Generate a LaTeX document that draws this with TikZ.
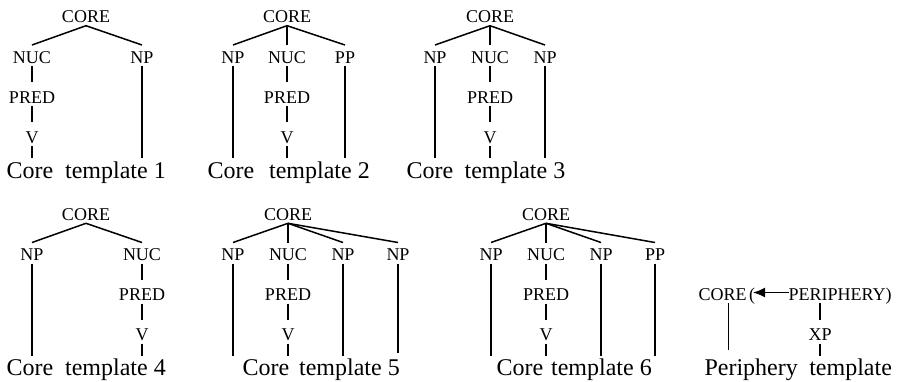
\documentclass[tikz,border=0pt]{standalone}
\usepackage{fontspec}
\setmainfont{Liberation Serif}
\usetikzlibrary{arrows.meta}
\begin{document}
\begin{tikzpicture}[x=0.5pt,y=-0.5pt,
  lab/.style={font=\fontsize{9}{10}\selectfont, inner xsep=0pt, inner ysep=1.5pt,
    outer sep=0pt, text height=7.5pt, text depth=0pt, anchor=base},
  tmplcap/.style={font=\fontsize{12}{14}\selectfont, inner xsep=0pt, inner ysep=2pt,
    outer sep=0pt, text height=8pt, text depth=0pt, anchor=base west},
  treeln/.style={line width=0.75pt},
  vertln/.style={treeln, shorten >=1.5pt}]
\useasboundingbox (0,0) rectangle (898,381);

% ---------- Core template 1 ----------
\node[lab] (a) at (86,22.7) {CORE};
\node[lab] (anuc) at (32,63) {NUC};
\node[lab] (anp) at (142,63) {NP};
\node[lab] (apred) at (32,103) {PRED};
\node[lab] (av) at (32,143) {V};
\node[tmplcap] (acap) at (6.5,178) {Core\hspace{3pt} template 1};
\draw[treeln] (a.south) -- (anuc.north);
\draw[treeln] (a.south) -- (anp.north);
\draw[vertln] (anuc.south) -- (apred.north);
\draw[vertln] (apred.south) -- (av.north);
\draw[treeln] (av.south) -- (av |- acap.north);
\draw[treeln] (anp.south) -- (anp |- acap.north);

% ---------- Core template 2 ----------
\node[lab] (b) at (287,22.7) {CORE};
\node[lab] (bnp) at (233,63) {NP};
\node[lab] (bnuc) at (287,63) {NUC};
\node[lab] (bpp) at (345,63) {PP};
\node[lab] (bpred) at (287,103) {PRED};
\node[lab] (bv) at (287,143) {V};
\node[tmplcap] (bcap) at (207.5,178) {Core\hspace{4.5pt} template 2};
\draw[treeln] (b.south) -- (bnp.north);
\draw[treeln] (b.south) -- (bnuc.north);
\draw[treeln] (b.south) -- (bpp.north);
\draw[vertln] (bnuc.south) -- (bpred.north);
\draw[vertln] (bpred.south) -- (bv.north);
\draw[treeln] (bv.south) -- (bv |- bcap.north);
\draw[treeln] (bnp.south) -- (bnp |- bcap.north);
\draw[treeln] (bpp.south) -- (bpp |- bcap.north);

% ---------- Core template 3 ----------
\node[lab] (c) at (490,22.7) {CORE};
\node[lab] (cnpa) at (435,63) {NP};
\node[lab] (cnuc) at (490,63) {NUC};
\node[lab] (cnpb) at (545,63) {NP};
\node[lab] (cpred) at (490,103) {PRED};
\node[lab] (cv) at (490,143) {V};
\node[tmplcap] (ccap) at (406.5,178) {Core\hspace{2.75pt} template 3};
\draw[treeln] (c.south) -- (cnpa.north);
\draw[treeln] (c.south) -- (cnuc.north);
\draw[treeln] (c.south) -- (cnpb.north);
\draw[vertln] (cnuc.south) -- (cpred.north);
\draw[vertln] (cpred.south) -- (cv.north);
\draw[treeln] (cv.south) -- (cv |- ccap.north);
\draw[treeln] (cnpa.south) -- (cnpa |- ccap.north);
\draw[treeln] (cnpb.south) -- (cnpb |- ccap.north);

% ---------- Core template 4 ----------
\node[lab] (d) at (86,220.3) {CORE};
\node[lab] (dnp) at (32,260.5) {NP};
\node[lab] (dnuc) at (142,260.5) {NUC};
\node[lab] (dpred) at (142,300.5) {PRED};
\node[lab] (dv) at (142,340.5) {V};
\node[tmplcap] (dcap) at (6.5,375.5) {Core\hspace{3pt} template 4};
\draw[treeln] (d.south) -- (dnp.north);
\draw[treeln] (d.south) -- (dnuc.north);
\draw[vertln] (dnuc.south) -- (dpred.north);
\draw[vertln] (dpred.south) -- (dv.north);
\draw[treeln] (dv.south) -- (dv |- dcap.north);
\draw[treeln] (dnp.south) -- (dnp |- dcap.north);

% ---------- Core template 5 ----------
\node[lab] (e) at (288,220.3) {CORE};
\node[lab] (enpa) at (233,260.5) {NP};
\node[lab] (enuc) at (288,260.5) {NUC};
\node[lab] (enpb) at (343,260.5) {NP};
\node[lab] (enpc) at (398,260.5) {NP};
\node[lab] (epred) at (288,300.5) {PRED};
\node[lab] (ev) at (288,340.5) {V};
\node[tmplcap] (ecap) at (242.5,375.5) {Core\hspace{2pt} template 5};
\draw[treeln] (e.south) -- (enpa.north);
\draw[treeln] (e.south) -- (enuc.north);
\draw[treeln] (e.south) -- (enpb.north);
\draw[treeln] (e.south) -- (enpc.north);
\draw[vertln] (enuc.south) -- (epred.north);
\draw[vertln] (epred.south) -- (ev.north);
\draw[treeln] (ev.south) -- (ev |- ecap.north);
\draw[treeln] (enpa.south) -- (enpa |- ecap.north);
\draw[treeln] (enpb.south) -- (enpb |- ecap.north);
\draw[treeln, shorten >=1.5pt] (enpc.south) -- (enpc |- ecap.north);

% ---------- Core template 6 ----------
\node[lab] (f) at (546,220.3) {CORE};
\node[lab] (fnpa) at (491,260.5) {NP};
\node[lab] (fnuc) at (546,260.5) {NUC};
\node[lab] (fnpb) at (601,260.5) {NP};
\node[lab] (fpp) at (655,260.5) {PP};
\node[lab] (fpred) at (546,300.5) {PRED};
\node[lab] (fv) at (546,340.5) {V};
\node[tmplcap] (fcap) at (496.5,375.5) {Core\hspace{1pt} template 6};
\draw[treeln] (f.south) -- (fnpa.north);
\draw[treeln] (f.south) -- (fnuc.north);
\draw[treeln] (f.south) -- (fnpb.north);
\draw[treeln] (f.south) -- (fpp.north);
\draw[vertln] (fnuc.south) -- (fpred.north);
\draw[vertln] (fpred.south) -- (fv.north);
\draw[treeln] (fv.south) -- (fv |- fcap.north);
\draw[treeln] (fnpa.south) -- (fnpa |- fcap.north);
\draw[treeln] (fnpb.south) -- (fnpb |- fcap.north);
\draw[treeln] (fpp.south) -- (fpp |- fcap.north);

% ---------- Periphery template ----------
\node[lab, anchor=base west] (pcore) at (698.5,300) {CORE};
\node[lab, anchor=base west] (lpar) at (749,300) {(};
\node[lab, anchor=base west] (per) at (788.5,300) {PERIPHERY};
\node[lab, anchor=base west] (rpar) at (per.base east) {)};
\node[lab] (xp) at (820,340.5) {XP};
\node[tmplcap] (pcap) at (704.5,375.5) {Periphery\hspace{2.75pt} template};
\draw[treeln, -{Latex[length=6pt,width=5pt]}, shorten >=-1pt] (per.west) -- (lpar.east);
\coordinate (pleg) at ([xshift=3pt]pcore.south);
\draw[treeln, shorten >=2.75pt] (pleg) -- (pleg |- pcap.north);
\draw[vertln] (xp |- per.south) -- (xp.north);
\draw[treeln] (xp.south) -- (xp |- pcap.north);
\end{tikzpicture}
\end{document}
